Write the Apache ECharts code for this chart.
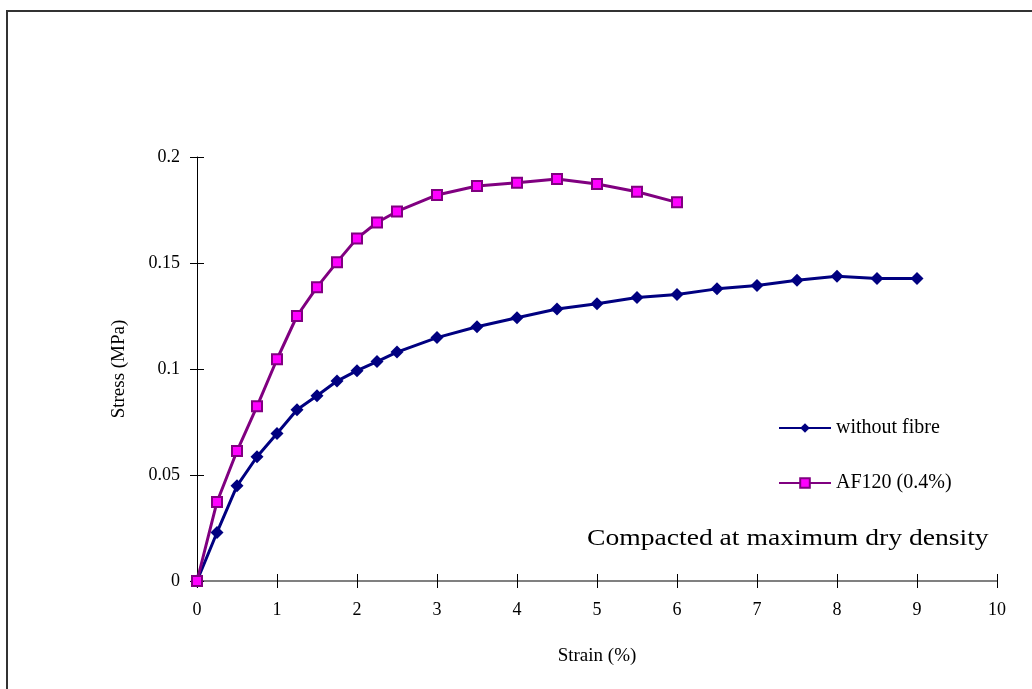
<!DOCTYPE html>
<html>
<head>
<meta charset="utf-8">
<script src="https://cdn.jsdelivr.net/npm/echarts@6/dist/echarts.min.js"></script>
<style>
body{margin:0;background:#fff;}
#chart{width:1032px;height:689px;}
</style>
</head>
<body>
<div id="chart"></div>
<script>
// strain (%) / stress (MPa)
var strainPlain=[0,0.25,0.5,0.75,1,1.25,1.5,1.75,2,2.25,2.5,3,3.5,4,4.5,5,5.5,6,6.5,7,7.5,8,8.5,9]
var stressPlain=[0,0.0229,0.0449,0.0586,0.0696,0.0808,0.0874,0.0943,0.0992,0.1035,0.108,0.1148,0.1199,0.1242,0.1283,0.1308,0.1337,0.1351,0.1378,0.1394,0.1419,0.1438,0.1427,0.1427]
var strainAF=[0,0.25,0.5,0.75,1,1.25,1.5,1.75,2,2.25,2.5,3,3.5,4,4.5,5,5.5,6]
var stressAF=[0,0.0373,0.0613,0.0824,0.1046,0.125,0.1386,0.1504,0.1616,0.1691,0.1743,0.1821,0.1863,0.1879,0.1896,0.1873,0.1836,0.1786]
var seriesNames=['without fibre','AF120 (0.4%)']
var note='Compacted at maximum dry density'

function pairs(xs,ys){
  return xs.map(function(x,i){return [x,ys[i]]})
}

var font='"Liberation Serif","Times New Roman",serif'
var myechart=echarts.init(document.getElementById('chart'))

var xBase={
  type:'value',min:0,max:10,interval:1,position:'bottom',
  splitLine:{show:false}
}
var yBase={
  type:'value',min:0,max:0.2,interval:0.05,position:'left',
  splitLine:{show:false}
}

var option={
  backgroundColor:'#fff',
  animation:false,
  grid:{left:197,right:35,top:157,bottom:108},
  legend:{
    orient:'vertical',left:773,top:413,
    itemWidth:52,itemHeight:12,itemGap:35,
    textStyle:{fontFamily:font,fontSize:20,color:'#000'},
    data:seriesNames
  },
  xAxis:[
    Object.assign({},xBase,{
      name:'Strain (%)',nameLocation:'middle',nameGap:66,
      nameTextStyle:{fontFamily:font,fontSize:19,color:'#000'},
      axisLine:{lineStyle:{color:'#808080',width:2}},
      axisTick:{inside:false,length:7,lineStyle:{color:'#000',width:1}},
      axisLabel:{margin:20,fontFamily:font,fontSize:18,color:'#000'}
    }),
    // second axis only for the ticks that cross into the plot
    Object.assign({},xBase,{
      axisLine:{show:false},
      axisTick:{inside:true,length:7,lineStyle:{color:'#000',width:1}},
      axisLabel:{show:false}
    })
  ],
  yAxis:[
    Object.assign({},yBase,{
      name:'Stress (MPa)',nameLocation:'middle',nameGap:68,
      nameTextStyle:{fontFamily:font,fontSize:19,color:'#000'},
      axisLine:{lineStyle:{color:'#000',width:1}},
      axisTick:{inside:false,length:7,lineStyle:{color:'#000',width:1}},
      axisLabel:{margin:17,fontFamily:font,fontSize:18,color:'#000'}
    }),
    Object.assign({},yBase,{
      axisLine:{show:false},
      axisTick:{inside:true,length:7,lineStyle:{color:'#000',width:1}},
      axisLabel:{show:false}
    })
  ],
  graphic:[
    {type:'rect',shape:{x:7,y:11,width:1200,height:1000},
     style:{fill:'none',stroke:'#333',lineWidth:2},silent:true},
    // the original text is a little stretched sideways
    {type:'text',x:587,y:527,scaleX:1.15,
     style:{text:note,font:'24px '+font,fill:'#000'}}
  ],
  series:[
    {
      name:seriesNames[0],type:'line',
      data:pairs(strainPlain,stressPlain),
      symbol:'diamond',symbolSize:13,
      lineStyle:{color:'#000080',width:3},
      itemStyle:{color:'#000080'}
    },
    {
      name:seriesNames[1],type:'line',
      data:pairs(strainAF,stressAF),
      symbol:'rect',symbolSize:10,
      lineStyle:{color:'#800080',width:3},
      itemStyle:{color:'#ff00ff',borderColor:'#800080',borderWidth:2}
    }
  ]
}
option&&myechart.setOption(option)
</script>
</body>
</html>
